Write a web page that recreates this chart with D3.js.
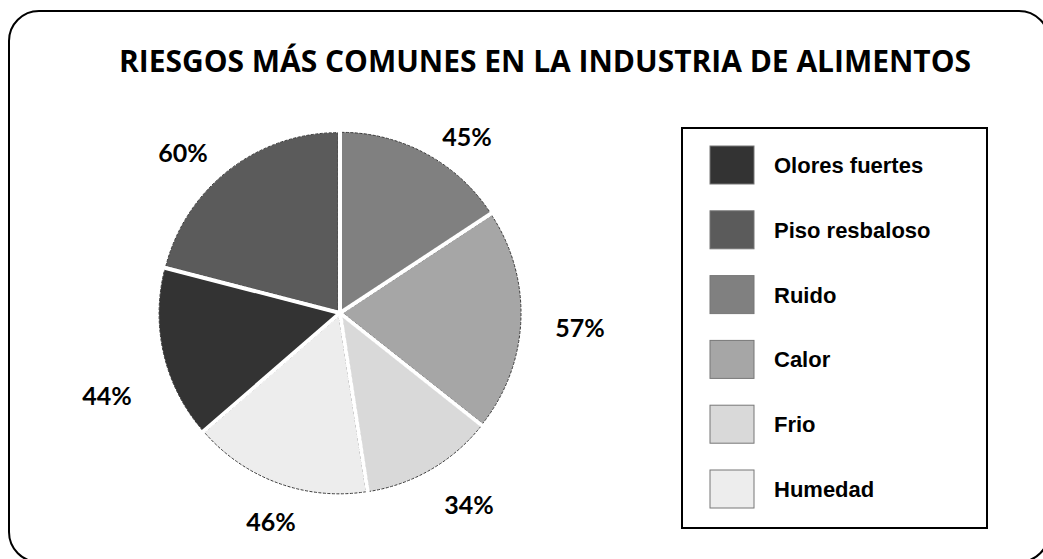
<!DOCTYPE html>
<html>
<head>
<meta charset="utf-8">
<script src="https://cdn.jsdelivr.net/npm/d3@7"></script>
<style>
  html, body { margin: 0; padding: 0; background: #fff; }
  svg { display: block; }
</style>
</head>
<body>
<svg id="chart" width="1043" height="559"></svg>
<script>
// Data (pie order clockwise from 12 o'clock)
const categories = ["Ruido", "Calor", "Frio", "Humedad", "Olores fuertes", "Piso resbaloso"];
const values = [45, 57, 34, 46, 44, 60];
const labels = ["45%", "57%", "34%", "46%", "44%", "60%"];
// Legend order
const legendOrder = ["Olores fuertes", "Piso resbaloso", "Ruido", "Calor", "Frio", "Humedad"];
const colors = ["#808080", "#a6a6a6", "#d9d9d9", "#ededed", "#333333", "#5b5b5b"];
const title = "RIESGOS MÁS COMUNES EN LA INDUSTRIA DE ALIMENTOS";

const svg = d3.select("#chart");

// Outer rounded frame
svg.append("rect")
  .attr("x", 9).attr("y", 11).attr("width", 1040).attr("height", 551)
  .attr("rx", 30).attr("ry", 30)
  .attr("fill", "#fff").attr("stroke", "#000").attr("stroke-width", 2);

// Title
svg.append("text")
  .attr("x", 545).attr("y", 72)
  .attr("text-anchor", "middle")
  .attr("font-family", "'Open Sans', sans-serif")
  .attr("font-weight", "bold")
  .attr("font-size", 30)
  .attr("textLength", 852)
  .attr("lengthAdjust", "spacingAndGlyphs")
  .attr("fill", "#000")
  .text(title);

const color = d3.scaleOrdinal().domain(categories).range(colors);

// Pie
const cx = 340, cy = 313, R = 178, explode = 3;
const pie = d3.pie().sort(null).value(d => d.v);
const arcs = pie(categories.map((c, i) => ({ c, v: values[i], l: labels[i] })));
const arc = d3.arc().innerRadius(0).outerRadius(R);

const g = svg.append("g").attr("transform", `translate(${cx},${cy})`);
g.selectAll("path").data(arcs).join("path")
  .attr("d", arc)
  .attr("transform", d => {
    const a = (d.startAngle + d.endAngle) / 2;
    return `translate(${explode * Math.sin(a)},${-explode * Math.cos(a)})`;
  })
  .attr("fill", d => color(d.data.c))
  .attr("stroke", "#3a3a3a")
  .attr("stroke-width", 1)
  .attr("stroke-dasharray", "3,1.5");

// White separators between slices
g.selectAll("line.sep").data(arcs).join("line")
  .attr("class", "sep")
  .attr("x1", 0).attr("y1", 0)
  .attr("x2", d => (R + 8) * Math.sin(d.startAngle))
  .attr("y2", d => -(R + 8) * Math.cos(d.startAngle))
  .attr("stroke", "#fff").attr("stroke-width", 4);

// Percent labels (positions as placed in the original)
const labelPos = {
  "Ruido": [467, 146], "Calor": [580, 337], "Frio": [469, 514],
  "Humedad": [271, 531], "Olores fuertes": [107, 405], "Piso resbaloso": [183, 162]
};
svg.append("g").selectAll("text").data(arcs).join("text")
  .attr("x", d => labelPos[d.data.c][0])
  .attr("y", d => labelPos[d.data.c][1])
  .attr("text-anchor", "middle")
  .attr("font-family", "Lato, sans-serif")
  .attr("font-weight", "bold")
  .attr("font-size", 25)
  .attr("fill", "#000")
  .text(d => d.data.l);

// Legend
svg.append("rect")
  .attr("x", 682).attr("y", 128).attr("width", 305).attr("height", 400)
  .attr("fill", "#fff").attr("stroke", "#000").attr("stroke-width", 2);

const ly = d3.scalePoint().domain(legendOrder).range([165, 489]);
const lg = svg.append("g").selectAll("g").data(legendOrder).join("g")
  .attr("transform", d => `translate(0,${ly(d)})`);
lg.append("rect")
  .attr("x", 710).attr("y", -19).attr("width", 44).attr("height", 38)
  .attr("fill", d => color(d))
  .attr("stroke", "#777").attr("stroke-width", 1);
lg.append("text")
  .attr("x", 774).attr("y", 8)
  .attr("font-family", "'Liberation Sans', Arial, sans-serif")
  .attr("font-weight", "bold")
  .attr("font-size", 22)
  .attr("fill", "#000")
  .text(d => d);
</script>
</body>
</html>
